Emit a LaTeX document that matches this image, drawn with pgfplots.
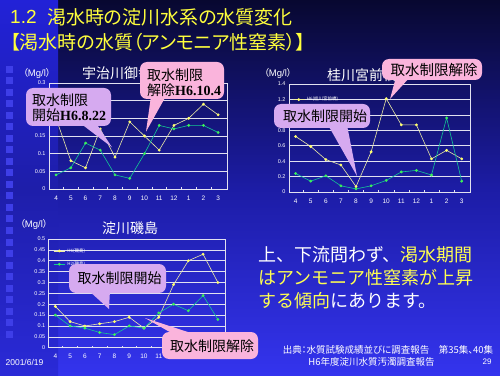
\documentclass[border=0pt]{standalone}
\usepackage{pgfplots}
\pgfplotsset{compat=1.18}
\usepackage{fontspec}
\setmainfont{Liberation Sans}
\newfontfamily\jp{Noto Sans CJK JP}
\newfontfamily\jpp[RawFeature=+palt]{Noto Sans CJK JP}
\newfontfamily\serifb{Liberation Serif}
\definecolor{lineY}{RGB}{235,235,165}
\definecolor{markY}{RGB}{255,255,110}
\definecolor{lineG}{RGB}{20,200,150}
\definecolor{markG}{RGB}{60,240,90}
\definecolor{gridc}{RGB}{225,225,240}
\definecolor{bgTop}{RGB}{8,8,48}
\definecolor{bgMid}{RGB}{28,28,165}
\definecolor{bgBot}{RGB}{52,52,238}
\definecolor{stripTop}{RGB}{34,34,215}
\definecolor{stripMid}{RGB}{30,30,170}
\definecolor{stripBot}{RGB}{42,42,215}
\definecolor{sq}{RGB}{62,62,232}
\definecolor{titleY}{RGB}{255,255,60}
\definecolor{txtY}{RGB}{255,255,80}
\definecolor{purp}{RGB}{214,170,240}
\definecolor{pinkc}{RGB}{250,180,220}
\pgfplotsset{
 slide/.style={
  scale only axis, anchor=south west,
  axis line style={draw=gridc, line width=0.6pt},
  ymajorgrids, grid style={draw=gridc, line width=0.6pt},
  xtick={0,...,11}, xticklabels={4,5,6,7,8,9,10,11,12,1,2,3},
  minor xtick={0.5,1.5,2.5,3.5,4.5,5.5,6.5,7.5,8.5,9.5,10.5},
  xtick pos=bottom, ytick pos=left,
  major tick length=0pt, minor tick length=2.2pt,
  tick align=inside,
  tick style={draw=gridc, line width=0.5pt},
  /pgf/number format/assume math mode=true,
  xticklabel style={font=\fontsize{6.5}{7}\selectfont, text=white, yshift=-3pt},
  yticklabel style={font=\fontsize{5.5}{6}\selectfont, text=white, /pgf/number format/fixed, /pgf/number format/precision=2},
  scaled y ticks=false,
  legend cell align=left,
  legend style={draw=none, fill=none, font=\jp\fontsize{4.5}{5}\selectfont, text=white, anchor=north west, row sep=4pt, inner sep=0pt},
  legend image code/.code={\draw[mark repeat=2,mark phase=2,##1] plot coordinates {(0cm,0cm) (0.2cm,0cm) (0.4cm,0cm)};},
 },
 ys/.style={color=lineY, line width=0.6pt, mark=*, mark size=1.1pt, mark options={fill=markY, draw=markY}},
 gs/.style={color=lineG, line width=0.6pt, mark=*, mark size=1.1pt, mark options={fill=markG, draw=markG}},
}
\begin{document}
\begin{tikzpicture}
% background
\shade[top color=bgTop, bottom color=bgBot, middle color=bgMid] (0,0) rectangle (500pt,375pt);
\shade[top color=stripTop, bottom color=stripBot, middle color=stripMid] (0,0) rectangle (58pt,375pt);
\foreach \k in {0,...,23}{
  \pgfmathsetmacro\yy{302-11.5*\k}
  \fill[sq] (6pt,\yy pt) rectangle ++(7pt,7pt);
}
% chart 1
\begin{axis}[slide, at={(49pt,186pt)}, width=178pt, height=106pt,
  xmin=-0.48, xmax=11.6, ymin=0, ymax=0.3,
  ytick={0,0.05,0.1,0.15,0.2,0.25,0.3}]
\addplot[ys] coordinates {(0,0.20)(1,0.08)(2,0.06)(3,0.17)(4,0.09)(5,0.19)(6,0.15)(7,0.11)(8,0.18)(9,0.20)(10,0.24)(11,0.21)};
\addplot[gs] coordinates {(0,0.04)(1,0.06)(2,0.13)(3,0.11)(4,0.04)(5,0.03)(6,0.10)(7,0.18)(8,0.17)(9,0.18)(10,0.18)(11,0.16)};
\end{axis}
% chart 2
\begin{axis}[slide, at={(289pt,183pt)}, width=181pt, height=108pt,
  xmin=-0.44, xmax=11.55, ymin=0, ymax=1.4,
  ytick={0,0.2,0.4,0.6,0.8,1.0,1.2,1.4}, legend style={at={(0.02,0.90)}}]
\addplot[ys] coordinates {(0,0.72)(1,0.59)(2,0.42)(3,0.35)(4,0.07)(5,0.52)(6,1.21)(7,0.87)(8,0.87)(9,0.43)(10,0.54)(11,0.43)};
\addplot[gs] coordinates {(0,0.24)(1,0.14)(2,0.21)(3,0.08)(4,0.04)(5,0.08)(6,0.15)(7,0.26)(8,0.28)(9,0.22)(10,0.96)(11,0.14)};
\legend{H6(桂川宮前橋),H2(桂川宮前橋)}
\end{axis}
% chart 3
\begin{axis}[slide, at={(48.7pt,27.3pt)}, width=177pt, height=108.7pt,
  xmin=-0.45, xmax=11.53, ymin=0, ymax=0.5,
  ytick={0,0.05,0.1,0.15,0.2,0.25,0.3,0.35,0.4,0.45,0.5}, legend style={at={(0.025,0.935)}}]
\addplot[ys] coordinates {(0,0.19)(1,0.12)(2,0.10)(3,0.11)(4,0.12)(5,0.14)(6,0.09)(7,0.14)(8,0.29)(9,0.40)(10,0.43)(11,0.30)};
\addplot[gs] coordinates {(0,0.15)(1,0.10)(2,0.09)(3,0.07)(4,0.06)(5,0.10)(6,0.09)(7,0.16)(8,0.20)(9,0.17)(10,0.24)(11,0.13)};
\legend{H6(磯島),H2(磯島)}
\end{axis}
% chart titles and units
\node[anchor=west, inner sep=0, text=white, font=\jp\fontsize{14}{15}\selectfont] at (82pt,302pt) {宇治川御幸橋};
\node[anchor=west, inner sep=0, text=white, font=\jp\fontsize{14}{15}\selectfont] at (327pt,300pt) {桂川宮前橋};
\node[anchor=west, inner sep=0, text=white, font=\jp\fontsize{14}{15}\selectfont] at (102pt,147pt) {淀川磯島};
\node[anchor=west, inner sep=0, text=white, font=\jpp\fontsize{9.5}{10}\selectfont] at (23pt,302pt) {（{\rmfamily Mg/l}）};
\node[anchor=west, inner sep=0, text=white, font=\jpp\fontsize{9.5}{10}\selectfont] at (264pt,302pt) {（{\rmfamily Mg/l}）};
\node[anchor=west, inner sep=0, text=white, font=\jpp\fontsize{9.5}{10}\selectfont] at (20pt,151pt) {（{\rmfamily Mg/l}）};
% callouts
\fill[purp, rounded corners=7pt] (26pt,249pt) rectangle (111pt,287pt);
\fill[purp] (80pt,252pt) -- (112pt,227.7pt) -- (96pt,252pt) -- cycle;
\node[anchor=west, inner sep=0, align=left, font=\jp\fontsize{14}{15}\selectfont] at (32pt,267.5pt) {取水制限\\開始{\serifb\bfseries H6.8.22}};
\fill[pinkc, rounded corners=7pt] (140pt,276pt) rectangle (224pt,313pt);
\fill[pinkc] (151pt,279pt) -- (146pt,243.3pt) -- (166pt,279pt) -- cycle;
\node[anchor=west, inner sep=0, align=left, font=\jp\fontsize{14}{15}\selectfont] at (147pt,292.5pt) {取水制限\\解除{\serifb\bfseries H6.10.4}};
\fill[pinkc, rounded corners=7pt] (382pt,295pt) rectangle (482pt,316pt);
\fill[pinkc] (396pt,298pt) -- (390pt,276pt) -- (410pt,298pt) -- cycle;
\node[inner sep=0, font=\jp\fontsize{14.5}{15}\selectfont] at (434pt,305.5pt) {取水制限解除};
\fill[purp, rounded corners=7pt] (274pt,247pt) rectangle (370pt,271pt);
\fill[purp] (328pt,250pt) -- (357pt,199pt) -- (347pt,250pt) -- cycle;
\node[inner sep=0, font=\jp\fontsize{14}{15}\selectfont] at (325pt,258.5pt) {取水制限開始};
\fill[purp, rounded corners=7pt] (69pt,82pt) rectangle (166pt,111pt);
\fill[purp] (88pt,85pt) -- (109pt,66pt) -- (110pt,85pt) -- cycle;
\node[inner sep=0, font=\jp\fontsize{14}{15}\selectfont] at (119.5pt,97pt) {取水制限開始};
\fill[pinkc, rounded corners=7pt] (162pt,16pt) rectangle (258pt,43pt);
\fill[pinkc] (175pt,40pt) -- (145pt,57pt) -- (197pt,40pt) -- cycle;
\node[inner sep=0, font=\jp\fontsize{14}{15}\selectfont] at (212pt,28.5pt) {取水制限解除};
% titles
\node[anchor=west, inner sep=0, text=titleY, font=\fontsize{19}{20}\selectfont] at (10pt,358pt) {1.2};
\node[anchor=west, inner sep=0, text=titleY, font=\jpp\fontsize{19}{20}\selectfont] at (47pt,358pt) {渇水時の淀川水系の水質変化};
\node[anchor=west, inner sep=0, text=titleY, font=\jpp\fontsize{19}{20}\selectfont] at (10pt,333pt) {【渇水時の水質（アンモニア性窒素）】};
% right text
\node[anchor=west, inner sep=0, font=\jp\fontsize{18}{19}\selectfont] at (258pt,120pt) {\textcolor{white}{上、下流問わず、}\textcolor{txtY}{渇水期間}};
\node[anchor=west, inner sep=0, font=\jp\fontsize{18}{19}\selectfont] at (258pt,97pt) {\textcolor{txtY}{はアンモニア性窒素が上昇}};
\node[anchor=west, inner sep=0, font=\jp\fontsize{18}{19}\selectfont] at (258pt,74pt) {\textcolor{txtY}{する傾向}\textcolor{white}{にあります。}};
% footer
\node[inner sep=0, text=white, font=\jpp\fontsize{9.5}{10}\selectfont] at (388pt,25pt) {出典：水質試験成績並びに調査報告　第35集、40集};
\node[inner sep=0, text=white, font=\jpp\fontsize{9.5}{10}\selectfont] at (371.5pt,13pt) {H6年度淀川水質汚濁調査報告};
\node[inner sep=0, text=white, font=\fontsize{8}{9}\selectfont] at (487pt,13pt) {29};
\node[inner sep=0, text=white, font=\fontsize{8.5}{9}\selectfont] at (24.5pt,13pt) {2001/6/19};
\pgfresetboundingbox
\useasboundingbox (0,0) rectangle (500pt,375pt);
\end{tikzpicture}
\end{document}
